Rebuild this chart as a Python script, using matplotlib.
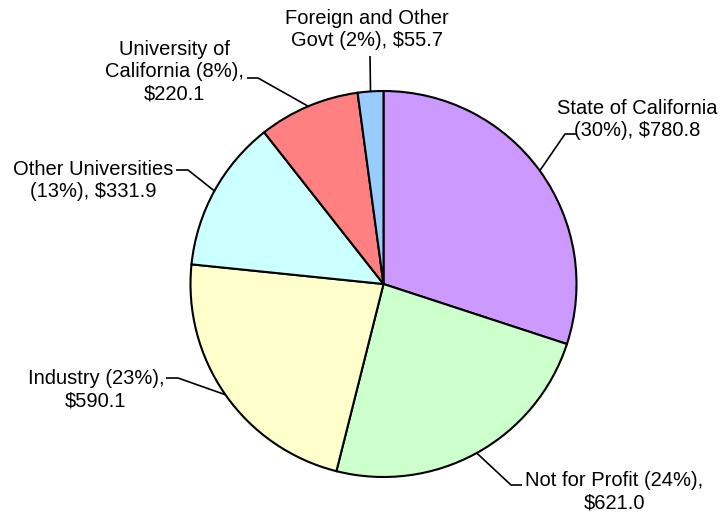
import numpy as np
import matplotlib
matplotlib.use("Agg")
import matplotlib.pyplot as plt

plt.rcParams['font.family'] = ['Liberation Sans', 'DejaVu Sans']

# data
sources = ["State of California", "Not for Profit", "Industry",
           "Other Universities", "University of California",
           "Foreign and Other Govt"]
amounts = [780.8, 621.0, 590.1, 331.9, 220.1, 55.7]
percents = [30, 24, 23, 13, 8, 2]
labels = ["State of California\n(30%), $780.8",
          "Not for Profit (24%),\n$621.0",
          "Industry (23%),\n$590.1",
          "Other Universities\n(13%), $331.9",
          "University of\nCalifornia (8%),\n$220.1",
          "Foreign and Other\nGovt (2%), $55.7"]
colors = ["#CC99FF", "#CCFFCC", "#FFFFCC", "#CCFFFF", "#FF8080", "#99CCFF"]

W, H = 721, 512
CX, CY, R = 383.5, 284.0, 193.0


def px(x, y):
    # pixel position -> data units (pie radius = 1)
    return (x - CX) / R, (CY - y) / R


fig = plt.figure(figsize=(W / 100, H / 100), dpi=100)
ax = fig.add_axes([0, 0, 1, 1])

wedges, _ = ax.pie(amounts, colors=colors, startangle=90, counterclock=False,
                   radius=1.0, center=(0, 0),
                   wedgeprops=dict(edgecolor='black', linewidth=1.5))
# pie() resets the limits, so set them afterwards
ax.set_xlim(-CX / R, (W - CX) / R)
ax.set_ylim(-(H - CY) / R, CY / R)
ax.set_aspect('equal')
ax.axis('off')

# leader line bends and label anchors (pixels)
bends = [[(565, 134), (576, 134)],
         [(511, 485), (522, 485)],
         [(178, 378), (166, 378)],
         [(188, 170), (176, 170)],
         [(258, 78), (247, 78)],
         [(370, 56)]]
text_pos = [(557, 120, 'left'), (525, 492, 'left'), (164, 390, 'right'),
            (173, 181, 'right'), (244, 72, 'right'), (367, 30, 'center')]

for w, lab, bend, (tx, ty, ha) in zip(wedges, labels, bends, text_pos):
    mid = np.deg2rad((w.theta1 + w.theta2) / 2)
    pts = [(np.cos(mid), np.sin(mid))] + [px(*b) for b in bend]
    xs, ys = zip(*pts)
    ax.plot(xs, ys, color='black', linewidth=1.2, solid_capstyle='butt')
    x, y = px(tx, ty)
    ax.text(x, y, lab, ha=ha, va='center', multialignment='center',
            fontsize=14.5, linespacing=1.2)

fig.savefig("out.png", dpi=100)
